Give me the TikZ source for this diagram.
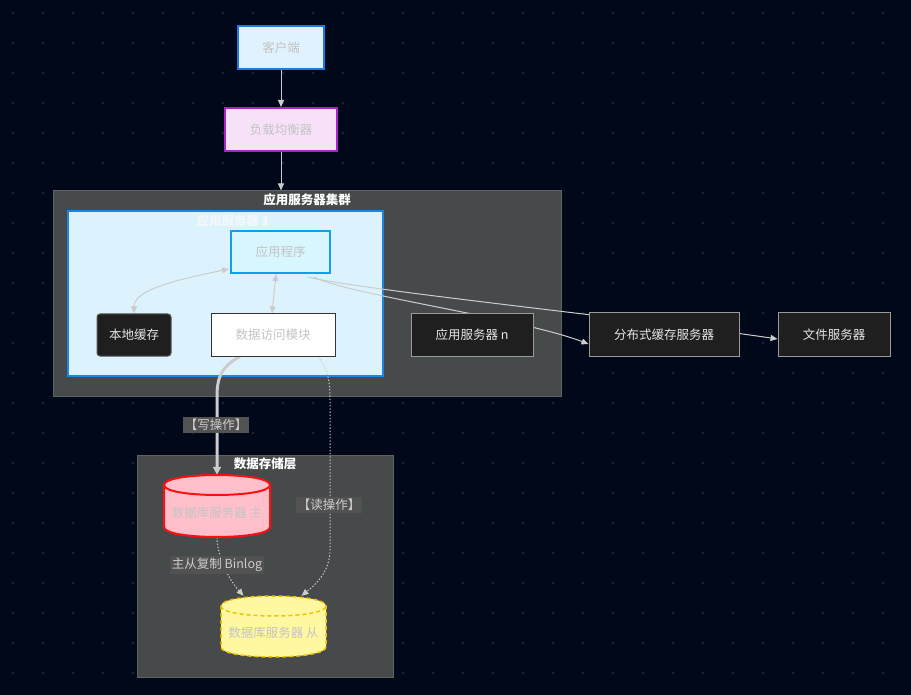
\documentclass[tikz,border=0pt]{standalone}
\usepackage{fontspec}
\setmainfont{Noto Sans CJK SC}
\usetikzlibrary{arrows.meta,calc}
\pgfdeclarelayer{bg}
\pgfdeclarelayer{edges}
\pgfsetlayers{bg,edges,main}
\definecolor{pagebg}{HTML}{000819}
\definecolor{dotc}{HTML}{1A2130}
\definecolor{grpfill}{HTML}{474A4A}
\definecolor{grpline}{HTML}{5E6263}
\definecolor{edgec}{HTML}{CCCCCC}
\definecolor{txtgray}{HTML}{C4C4C4}
\definecolor{lblfill}{HTML}{525252}
\definecolor{darkfill}{HTML}{1F1F1F}
\definecolor{srvline}{HTML}{1E84E3}
\definecolor{srvfill}{HTML}{DCF3FD}
\definecolor{srvtitle}{HTML}{F4F8FB}
\definecolor{cliline}{HTML}{1C7AE8}
\definecolor{clifill}{HTML}{DFF2FD}
\definecolor{lbline}{HTML}{A625C4}
\definecolor{lbfill}{HTML}{F7E1F8}
\definecolor{appline}{HTML}{0EA0EF}
\definecolor{appfill}{HTML}{D8F6FE}
\definecolor{cacheline}{HTML}{555555}
\definecolor{lighttxt}{HTML}{E6E6E6}
\definecolor{damline}{HTML}{333333}
\definecolor{greyline}{HTML}{9A9A9A}
\definecolor{mline}{HTML}{FF1010}
\definecolor{mfill}{HTML}{FFC0CB}
\definecolor{sline}{HTML}{F2C200}
\definecolor{sfill}{HTML}{FFF8A0}
\newcommand\myfs{\fontsize{12.5}{15}\selectfont}
\tikzset{
  nd/.style={draw, rectangle, inner sep=0pt, font=\myfs, text=txtgray, line width=1pt},
  grp/.style={draw=grpline, fill=grpfill, rectangle, inner sep=0pt, line width=1pt},
  gtitle/.style={font=\myfs\bfseries, text=white, inner sep=0pt},
  edge/.style={draw=edgec, line width=1pt},
  tip/.style={-{Triangle[length=7pt,width=6pt]}},
  lbl/.style={fill=lblfill, text=edgec, font=\myfs, inner sep=2pt},
  dots/.style={dash pattern=on 1.4pt off 1.8pt}
}
\begin{document}
\begin{tikzpicture}[x=1pt,y=-1pt]
\useasboundingbox (0,0) rectangle (911,695);
\begin{pgfonlayer}{bg}
\fill[pagebg] (0,0) rectangle (911,695);
\foreach \i in {0,...,29} \foreach \j in {0,...,22} \fill[dotc] (13+30*\i,13+30*\j) circle (1.6);
% groups
\node[grp, minimum width=508pt, minimum height=205pt] (cluster) at (307,293.5) {};
\node[gtitle] (clustert) at (307,200) {应用服务器集群};
\node[draw=srvline, fill=srvfill, rectangle, line width=1.5pt, inner sep=0pt, minimum width=315pt, minimum height=165pt] (srv1) at (225.5,293.5) {};
\node[gtitle, text=srvtitle] (srv1t) at (233,221) {应用服务器 1};
\node[grp, minimum width=256pt, minimum height=222pt] (storage) at (265,566) {};
\node[gtitle] (storaget) at (265,464) {数据存储层};
\end{pgfonlayer}

% nodes
\node[nd, draw=cliline, fill=clifill, line width=2pt, minimum width=86pt, minimum height=43pt] (client) at (281,47.5) {客户端};
\node[nd, draw=lbline, fill=lbfill, line width=2pt, minimum width=112pt, minimum height=43pt] (lb) at (281,129.5) {负载均衡器};
\node[nd, draw=appline, fill=appfill, line width=2pt, minimum width=99pt, minimum height=42pt] (app) at (280.5,252) {应用程序};
\node[nd, draw=cacheline, fill=darkfill, rounded corners=3pt, text=lighttxt, minimum width=74pt, minimum height=42pt] (cache) at (134,335) {本地缓存};
\node[nd, draw=damline, fill=white, minimum width=124pt, minimum height=42pt] (dam) at (273,335) {数据访问模块};
\node[nd, draw=greyline, fill=darkfill, text=lighttxt, minimum width=122pt, minimum height=42pt] (srvn) at (472,335) {应用服务器 n};
\node[nd, draw=greyline, fill=darkfill, text=lighttxt, minimum width=150pt, minimum height=43pt] (dist) at (664,334.5) {分布式缓存服务器};
\node[nd, draw=greyline, fill=darkfill, text=lighttxt, minimum width=112pt, minimum height=43pt] (file) at (834,334.5) {文件服务器};

% cylinders
\node[rectangle, inner sep=0pt, minimum width=106pt, minimum height=62pt] (master) at (217,506) {};
\filldraw[draw=mline, fill=mfill, line width=2pt]
  (164,485) -- (164,527) .. controls (164,540.3) and (270,540.3) .. (270,527)
  -- (270,485) .. controls (270,471.7) and (164,471.7) .. cycle;
\draw[draw=mline, line width=2pt] (164,485) .. controls (164,498.3) and (270,498.3) .. (270,485);
\node[font=\myfs, text=txtgray] (masterl) at (217,513) {数据库服务器 主};

\node[rectangle, inner sep=0pt, minimum width=105pt, minimum height=61pt] (slave) at (273.5,626.5) {};
\filldraw[draw=sline, fill=sfill, line width=1.5pt, dash pattern=on 4pt off 3pt]
  (221,606) -- (221,647) .. controls (221,660.3) and (326,660.3) .. (326,647)
  -- (326,606) .. controls (326,592.7) and (221,592.7) .. cycle;
\draw[draw=sline, line width=1.5pt, dash pattern=on 4pt off 3pt] (221,606) .. controls (221,619.3) and (326,619.3) .. (326,606);
\node[font=\myfs, text=txtgray] (slavel) at (273.5,633) {数据库服务器 从};

% edges
\begin{pgfonlayer}{edges}
\draw[edge, tip] (client.south) -- (lb.north);
\draw[edge, tip] (lb.south) -- (lb.south |- cluster.north);
\draw[edge, {Triangle[length=7pt,width=6pt]}-{Triangle[length=7pt,width=6pt]}]
  ([shift={(-1,-5)}]app.south west) .. controls (175,280) and (134,290) .. (cache.north);
\draw[edge, {Triangle[length=7pt,width=6pt]}-{Triangle[length=7pt,width=6pt]}]
  ([xshift=-4.5pt]app.south) -- ([xshift=-1pt]dam.north);
\draw[edge, tip] ([xshift=27pt, yshift=-3pt]app.south) .. controls (360,290) and (650,320) .. ([yshift=-4.5pt]file.west);
\draw[edge, tip] ([xshift=33pt, yshift=-3pt]app.south) .. controls (350,295) and (520,318) .. ([yshift=-9.5pt]dist.west);
\draw[edge, line width=3pt, -{Triangle[length=8pt,width=8pt]}] ([xshift=-33pt]dam.south) .. controls (219,368) and (217,380) .. (217,398) -- (master.north);
\draw[edge, dots, tip] ([xshift=45pt]dam.south) .. controls (328,370) and (330,380) .. (330,400) -- (330,550) .. controls (330,572) and (315,585) .. ([xshift=28pt]slave.north);
\draw[edge, dots, tip] (master.south) .. controls (217,552) and (225,575) .. ([xshift=-30pt]slave.north);
\end{pgfonlayer}

% labels
\node[lbl] (wlbl) at (216,425) {【写操作】};
\node[lbl] (rlbl) at (329,505) {【读操作】};
\node[lbl] (blbl) at (217,565) {主从复制 Binlog};
\end{tikzpicture}
\end{document}
